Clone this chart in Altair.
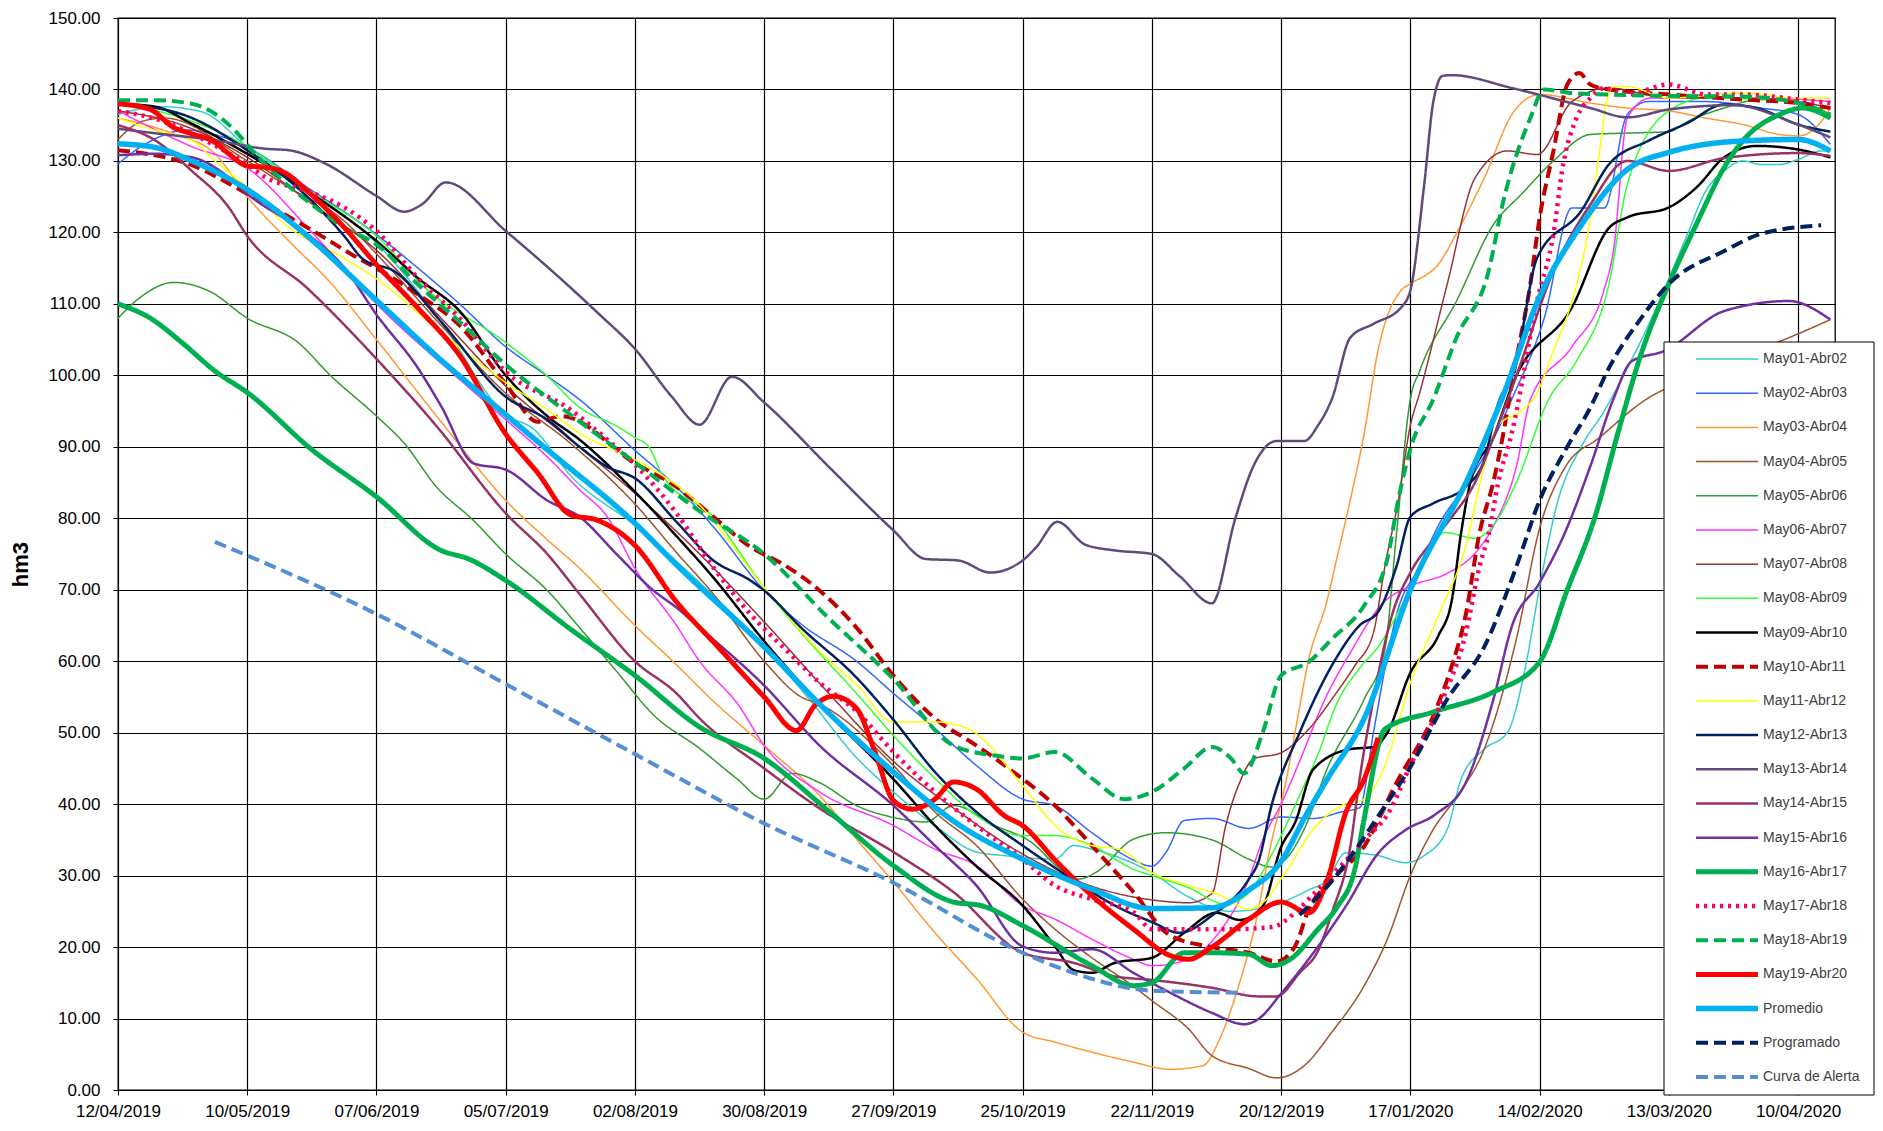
import altair as alt
import pandas as pd

SERIES = ["May01-Abr02", "May02-Abr03", "May03-Abr04", "May04-Abr05", "May05-Abr06",
          "May06-Abr07", "May07-Abr08", "May08-Abr09", "May09-Abr10", "May10-Abr11",
          "May11-Abr12", "May12-Abr13", "May13-Abr14", "May14-Abr15", "May15-Abr16",
          "May16-Abr17", "May17-Abr18", "May18-Abr19", "May19-Abr20", "Promedio",
          "Programado", "Curva de Alerta"]

COLORS = ["#33CCCC", "#3366FF", "#FF9933", "#A0522D", "#339933",
          "#FF33FF", "#993333", "#33FF33", "#000000", "#C00000",
          "#FFFF00", "#002060", "#604A7B", "#993366", "#7030A0",
          "#00B050", "#FF0066", "#00B050", "#FF0000", "#00B0F0",
          "#002060", "#558ED5"]
WIDTHS = [1.5, 1.5, 1.5, 1.5, 1.5,
          1.5, 1.5, 1.5, 2.5, 4,
          1.5, 2.5, 2.5, 2.5, 2.5,
          5, 4.5, 4, 5, 5.5,
          4, 4]
SOLID = [1, 0]
DASH = [12, 6]
DOT = [3, 5]
DASHES = [SOLID] * 9 + [DASH] + [SOLID] * 6 + [DOT, DASH, SOLID, SOLID, DASH, DASH]

TICK_LABELS = ["12/04/2019", "10/05/2019", "07/06/2019", "05/07/2019", "02/08/2019",
               "30/08/2019", "27/09/2019", "25/10/2019", "22/11/2019", "20/12/2019",
               "17/01/2020", "14/02/2020", "13/03/2020", "10/04/2020"]
Y_TICKS = [0, 10, 20, 30, 40, 50, 60, 70, 80, 90, 100, 110, 120, 130, 140, 150]
START_DATE = "2019-04-12"
END_DATE = "2020-04-18"

# (days since 12/04/2019, hm3)
may01 = [(0,136.5),(9,137.6),(18,136.9),(28,132),(41,126),(56,118.5),(70,107.5),(84,94.5),(90,92.5),
         (98,86),(112,79),(126,71),(140,62),(150,54.5),(160,46.5),(168,41.7),(177,37),(186,33.3),
         (192,32.8),(203,32.3),(207,34.2),(211,33.7),(224,30.4),(232,27),(241,25),(250,25.8),
         (258,28),(262,29.4),(266,33.2),(273,32.8),(279,31.8),(283,32.8),(288,36.5),(291,43.5),
         (296,47.7),(301,50),(305,59.4),(308,70.4),(312,82.5),(317,90),(322,95),(327,101),
         (333,109),(340,119.7),(344,125.8),(348,128.6),(352,130),(356,129.5),(360,129.5),
         (364,130.2),(369,131.4),(371,131.4)]
may02 = [(0,129.6),(5,132),(15,134.3),(28,131.9),(41,126.3),(56,119.7),(65,115),(74,110),(84,104),
         (93,99.9),(100,96.6),(112,89.5),(121,84.4),(129,78.8),(140,69.9),(148,65.2),(160,60),
         (168,55.5),(177,50.6),(186,45.4),(196,40.7),(203,39.8),(211,36),(220,32.2),(224,31.3),
         (227,33.2),(231,37.7),(237,38),(245,36.6),(252,38.2),(259,38),(265,38.9),(269,39.5),
         (272,50),(274.5,59),(277,66.5),(282,73.3),(286,78.9),(293,85.5),(298,91.1),(302,96.7),
         (309,108),(315,123.4),(322,123.4),(327,136.5),(331.5,138.3),(344,138.3),(356,137.4),
         (364,136.5),(371,132.3)]
may03 = [(0,136),(12,133.8),(21,131),(28,125),(37,118.8),(46,113),(56,105),(70,93.5),(84,82.5),
         (93,77),(100,73),(112,65),(121,59.5),(129,54.4),(140,48.2),(152,41.2),(160,35.1),
         (168,29.1),(177,22),(186,15.6),(196,8.1),(203,6.7),(211,5.3),(220,3.9),(228,2.9),
         (235,3.4),(239,7.6),(243,15),(246,22),(250,35),(253,43),(255,50),(258,60.3),(262,68.6),
         (264,74.2),(267,82.6),(270,91.9),(273,103.5),(278,111.9),(280,112.8),(286,115.5),
         (291,121.1),(296,127.6),(302.5,137),(308,139.3),(319,138.1),(327,137.4),(336,137),
         (344,136),(352,135.1),(360,133.7),(364,133.5),(369,135.5),(371,137.4)]
may04 = [(0,133),(5,135.5),(10,136),(28,130),(37,126.3),(49,121.6),(56,117),(70,107),(84,97.5),
         (98,90.5),(112,82),(121,75.2),(129,69.4),(140,60),(148,55),(152,54),(168,45.4),
         (177,38.9),(186,34.2),(196,26.7),(203,22.5),(211,18.5),(220,14.5),(224,12.5),(232,8.5),
         (237,4.8),(245,3),(251,1.7),(257,3.4),(263,8.1),(270,14.6),(275,21.1),(280,30),
         (285,36.5),(290,41),(296,47.7),(303,63.2),(308,78.6),(313.5,87.1),(321,91.3),(331,96.6),
         (340,99.5),(350,102.5),(359,104.5),(371,107.8)]
may05 = [(0,108),(5,111),(12,113),(20,111.7),(28,108),(39,104.6),(46,100),(56,94.3),(62,90.5),
         (69,84.4),(77,79.7),(84,75),(93,69.9),(100,64.7),(108,58.6),(116,52.5),(126,47.8),
         (134,43.6),(140,40.7),(146,44.3),(152,43),(160,39.8),(169,38),(175,37.5),(181,39.8),
         (190,37),(198,34.6),(204,31),(208,29.5),(212,30.5),(220,35.1),(227,36),(237,35),
         (245,32.3),(250,31.2),(253,32.3),(257,36.5),(262,45),(270,54.7),(274.5,61.7),(277,77.9),
         (280,96.7),(282,100.6),(290,110.4),(298,121.1),(304,125.3),(311,130),(319,133.7),
         (327,133.9),(336,134.1),(340,135.5),(348,137.4),(356,138.6),(364,138.3),(371,136.5)]
may06 = [(0,137),(16,132),(28,129),(42,120),(56,110),(73,100),(84,93.8),(93,88.6),(100,84),
         (106,80.2),(112,73),(121,65),(126,60),(134.5,53.8),(140,48.2),(152,41.7),(168,37),
         (177,33.7),(186,31.4),(196,25.8),(203,23.9),(211,21.1),(220,18.3),(224,17.4),(232,18.3),
         (238,21.6),(245,29.5),(248,35),(252,40),(256,46),(261.5,54.7),(267,61.2),(274,68.1),
         (280,70.5),(288,72.3),(294,75.1),(298,78.9),(303,87.3),(306,96.6),(315,104),(322,112),
         (324,117.4),(327,136),(332,138.8),(344,138.8),(364,138.6),(371,138.3)]
may07 = [(0,137),(14,135),(28,130.5),(42,124),(56,117.5),(70,108),(84,98.5),(98,91),(112,83.5),
         (126,75),(140,65.5),(154,55.5),(168,46),(182,39),(196,33),(211,28.5),(224,26.6),
         (232,26.2),(237,27.5),(240,37),(243,43),(246,46.3),(252,47.2),(258,50.5),(264,55.6),
         (268,59.4),(272,64),(274.5,73.3),(277.4,82.6),(280,93),(282,97.5),(288,112.8),
         (294,127.6),(301,131.4),(307.5,130.9),(315,138.3),(323,140.2),(336,138.8),(352,138.8),
         (364,138.3),(371,137.4)]
may08 = [(0,138),(14,136),(28,132),(41,126),(56,119.5),(67,112),(84,104.6),(93,99.9),(100,95.5),
         (108,92.9),(112,91.3),(115,90),(118,86),(129,80.2),(140,70.3),(148,64),(160,55.5),
         (168,49.6),(177,43.6),(186,38.4),(196,35.6),(203,35.6),(211,34.2),(220,30.9),(224,30),
         (232,28.3),(240,26),(245,27.6),(250,33),(256,41.2),(260,47),(264,54),(269,59),(273,62),
         (280,70),(287.5,78),(294,77.2),(298,79),(303,85.1),(310,96.7),(316,102),(323,112.7),
         (327,126.7),(336,137),(344,138.8),(364,138.3),(371,136)]
may09 = [(0,138),(8,137.6),(16,135.2),(28,131),(41,125.8),(56,118.8),(65,113.6),(74,109),(84,100),
         (93,94.3),(100,91),(112,83.7),(121,77.5),(129,71.7),(140,62.8),(152,54),(168,43.5),
         (177,37),(186,31.3),(196,25.8),(203,20.1),(207,16.8),(211,16.4),(216,17.8),(224,18.5),
         (231,22),(238,24.8),(243,23.8),(248,25.7),(252,34),(255,37.4),(259,44.9),(267,47.7),
         (272,48),(275,50),(280,58.4),(286,63.5),(289,68.6),(291,78),(293,85),(298,91.4),
         (302.5,99.3),(315,109.5),(323,120.6),(327,122.1),(336,123.5),(342,126.3),(348,130.5),
         (355,132.1),(364,131.6),(371,130.5)]
may10 = [(0,131.5),(16,129.4),(28,125.4),(41,120.7),(52,116.4),(57,114.6),(65,111.3),(74,107),
         (84,98.8),(91,93.5),(96,94.3),(112,87.7),(121,84.4),(129,80.2),(137,76),(144,73.6),
         (152,69.9),(160,64.7),(168,58),(177,52),(186,48.2),(194,44.5),(203,39.8),(211,34.2),
         (220,27.7),(228,21.6),(237,20),(245,19.2),(251,18),(255,20.1),(258,25.3),(263,29.4),
         (270,34.1),(277,43),(285,52.4),(289,59.4),(292,66.5),(295,78),(298,85.1),(300,91.4),
         (302.5,100.7),(306,112.8),(308,122),(311,131.4),(314,140.7),(316.6,142.3),(319,140.7),
         (323,140),(336,139.3),(352,138.6),(364,138.1),(371,137.4)]
may11 = [(0,136),(8,134.3),(16,132.9),(21,130),(28,126.3),(37,120.7),(49,116.4),(56,113.5),
         (70,106),(84,99),(93,95.2),(100,91.9),(112,88.2),(125,82.5),(140,70.3),(152,61.4),
         (160,56.7),(168,51.5),(177,51.5),(184,50.6),(196,42.6),(203,37),(211,34.2),(217,33.7),
         (224,30.4),(232,28.6),(239,27.2),(245,25.3),(248,26.2),(253,30.5),(259,36.5),(265,39.8),
         (270,40.7),(274.5,45.4),(280,57),(286,66.3),(292,76.1),(296,87.3),(299,93),(304,95),
         (307,97),(311,103.4),(316,112.7),(319,122),(321,131.4),(322.5,138.3),(324,140.4),
         (327,140.4),(336,138.8),(352,139.5),(364,138.8),(371,138.8)]
may12 = [(0,138),(14,136.5),(28,131.5),(41,125),(49,119.5),(53,116.3),(60,114.5),(70,107.5),
         (84,97),(93,93.8),(100,90),(106,87.2),(112,85.6),(121,79.5),(129,74.1),(137,71.3),
         (140,69.9),(148,64.7),(160,57.7),(168,51.8),(177,44.5),(186,38.9),(196,34.2),(207,29.4),
         (216,25.8),(224,23.5),(230,22),(237,24.4),(245,29.5),(247,31.8),(250,40),(256,50),
         (263,59.4),(269,65),(273,66.9),(277,73.3),(280,80.2),(285,82.1),(292,84.4),(296,88.2),
         (299,96),(302.5,100.6),(307.5,116.5),(317,123),(323,129.5),(331.5,132.8),(340,135.3),
         (348,137.9),(355,137.4),(364,135.1),(371,134.1)]
may13 = [(0,134.5),(9,133.8),(21,132.9),(32,131.7),(37,131.5),(45,129.6),(56,125.1),(62,122.9),
         (66,124),(71,127),(84,120.2),(104,108.7),(112,103.7),(120,97),(126,93.1),(133,99.8),
         (140,96.2),(154,87.2),(168,78.3),(175,74.3),(182,74.1),(189,72.4),(196,74.1),(199,76),
         (203.5,79.5),(209.6,76.3),(216,75.5),(224,75),(230,71.9),(237,68.1),(242,79.8),
         (246,87.3),(251,90.8),(257,90.8),(260,93),(263,96.7),(267,105.3),(272,107.2),(278,109.5),
         (280,111.9),(283,126.7),(285,138.4),(287,141.9),(289,142),(302,140.2),(319,137.4),
         (327,136.1),(336,137.2),(350,137.8),(364,135.1),(371,133.3)]
may14 = [(0,135),(8,132.9),(16,128.6),(24,123.5),(28,119.5),(41,112.2),(56,102.3),(69,92.9),
         (84,80.7),(93,75),(100,69.4),(112,60),(121,55.5),(126,52),(140,45),(152,39.4),(168,33.3),
         (181,27.7),(196,19.2),(207,17.8),(216,15.9),(224,15.4),(237,14.3),(247,13.1),(251,13.1),
         (256,16.4),(260,19.5),(263,24.8),(267,34.1),(269,43.5),(272,54.7),(276,66.4),(280,72.4),
         (285,77),(289,80.2),(294,85),(299,93),(303,100),(311,114.6),(319,123.9),(327,130),
         (336,128.6),(348,130.4),(364,131.1),(371,130.7)]
may15 = [(0,130.8),(8,131),(16,130.5),(24,127.7),(28,125.4),(41,119.8),(49,115.1),(56,108.5),
         (65,101),(70,95.7),(77,87.7),(84,86.8),(93,82.5),(100,80.2),(108,75),(116,69.9),
         (121,67.5),(126,64.7),(140,56.6),(152,48.2),(168,39.8),(177,34.2),(186,28.6),(196,20.1),
         (203,19.2),(211,19.7),(220,16.4),(228,13.6),(237,10.8),(244,9.2),(247,9.9),(252,13.5),
         (259,19.2),(266,25.7),(273,33.1),(279,36.4),(285.5,38.6),(292,43),(298,54.7),(302,64.9),
         (308,71),(313.5,78),(319,87.3),(324,96.7),(328,102),(335,103.4),(348,109),(362,110.4),
         (371,107.8)]
may16 = [(0,110),(7,108),(14,104.5),(21,100.6),(28,97.6),(42,89.6),(56,83),(70,75.5),(76,74.3),
         (84,71.3),(98,64.5),(112,58),(126,50.8),(140,46.4),(154,39),(168,31.4),(181,26.3),
         (187,25.8),(196,23),(211,17.4),(220,14.6),(224,15),(231,19.2),(237,19.2),(245,19),
         (250,17.4),(254,18.3),(260,22.5),(264,25.5),(268,31),(270,38),(274.5,50.5),(285,52.9),
         (298,55.7),(308,59.9),(314,70),(320,80.2),(325,92),(330,103),(336,112.8),(342,121.2),
         (348,129.1),(352,132.8),(360,136.5),(365,137.4),(371,136)]
may17 = [(0,137),(10,135.5),(20,132.5),(28,129.5),(32,127.7),(41,125.8),(49,123.5),(56,120.2),
         (65,113.6),(74,108),(84,100.5),(98,95.2),(106,91),(112,87.5),(121,80.7),(129,73.1),
         (137,66.6),(145,61.4),(152,57),(160,53),(168,47.3),(177,41.7),(186,37),(196,32.3),
         (203,28.6),(211,26.7),(220,24.9),(224,22.5),(232,22.5),(241,22.5),(250,22.8),(255,24.8),
         (259,27.4),(262,29.4),(271,35.6),(275,38.5),(280,45.4),(287,54.7),(292,63.9),(295,73.3),
         (297,77.9),(299,84.9),(302,92),(307.5,110.5),(311,119.8),(313,129.1),(316,136),
         (319,138.8),(322,140.2),(327,139.3),(336,140.7),(344,139.3),(352,139.3),(364,138.6),
         (371,138.1)]
may18 = [(0,138.5),(8,138.5),(16,138),(21,136.6),(26,133.8),(29,131.5),(34,128.2),(41,124.4),
         (49,120.7),(56,118.3),(65,112.7),(74,107.5),(84,101.5),(98,94.5),(112,87.8),(126,81),
         (140,75),(154,66),(168,57.5),(181,48.2),(190,46.8),(196,46.4),(203,47.3),(211,43.6),
         (218,40.7),(224,41.7),(231,45),(237,48),(241,46.5),(244,44.3),(248,50),(252,58),
         (258,59.9),(263,63.1),(270,67.8),(275,74.3),(277.4,82.7),(280,89.7),(285,96.7),
         (290,105.3),(297,114.7),(300,124),(306,136),(309,140),(315,139.5),(336,139.1),(352,139),
         (364,138.1),(371,136.5)]
may19 = [(0,138),(7,137.2),(12,134.7),(16,133.8),(21,132.6),(24,131),(28,129.3),(32,129.1),
         (36,128.4),(41,125.8),(49,120.7),(56,115.5),(65,109.4),(74,102.8),(84,91.8),(91,86.3),
         (98,80.5),(104,79.7),(112,76.2),(121,68.3),(130,62),(140,55),(147,50.3),(151,53.8),
         (155,55.1),(160,53.4),(164,47.3),(168,40.5),(172,39.3),(177,40.7),(181,43.1),(186,42.1),
         (192,38.4),(196,37),(203,32.2),(211,27.2),(220,22.5),(228,18.8),(232,18.3),(237,20),
         (245,23.9),(252,26.3),(258,24.8),(262,29.4),(266,38.8),(270,43.5),(273,49.3)]
promedio = [(0,132.4),(8,131.9),(16,130),(28,126),(41,119.5),(56,110.5),(69,102.7),(84,94.5),
            (93,89.6),(112,79.3),(121,73.5),(140,62),(152,54),(168,44.5),(182,37.2),(196,32.3),
            (211,28.1),(224,25.4),(237,25.5),(245,28),(252,32),(257,38),(262,43.5),(270,52),
            (280,70),(293,86.3),(300,97),(308,111),(317,121),(327,128.8),(336,131.2),(352,132.8),
            (364,133),(371,131.4)]
programado = [(256,24.5),(262,28.5),(266,31.7),(273,38.3),(280,45.2),(288,54.7),(296,62),
              (303,73.3),(308,82.5),(314,90),(319,95.5),(323,101),(330,108),(336,112.8),
              (348,117.4),(356,119.8),(369,121)]
curva_alerta = [(21,76.7),(56,66.6),(84,56.8),(112,47),(140,37.3),(168,29),(196,19.2),(207,16.4),
                (224,13.9),(244,13.6)]

DATA = [may01, may02, may03, may04, may05, may06, may07, may08, may09, may10, may11, may12,
        may13, may14, may15, may16, may17, may18, may19, promedio, programado, curva_alerta]

start = pd.Timestamp(START_DATE)
rows = []
for name, pts in zip(SERIES, DATA):
    for d, v in pts:
        t = start + pd.Timedelta(hours=round(d * 24))
        rows.append({"series": name, "date": t.strftime("%Y-%m-%dT%H:%M:%SZ"), "value": v})
df = pd.DataFrame(rows)
legend_df = pd.DataFrame({"series": SERIES})
box_df = pd.DataFrame({"box": [0]})


def to_dt(s):
    dd, mm, yy = (int(p) for p in s.split("/"))
    return alt.DateTime(year=yy, month=mm, date=dd, utc=True)


def iso_dt(s):
    yy, mm, dd = (int(p) for p in s.split("-"))
    return alt.DateTime(year=yy, month=mm, date=dd, utc=True)


tick_values = [to_dt(s) for s in TICK_LABELS]

FONT = "Liberation Sans"

# shared style scales (series -> colour / dash / width)
color_enc = alt.Color("series:N", scale=alt.Scale(domain=SERIES, range=COLORS), legend=None)
dash_enc = alt.StrokeDash("series:N", scale=alt.Scale(domain=SERIES, range=DASHES), legend=None)
width_enc = alt.StrokeWidth("series:N",
                            scale=alt.Scale(type="ordinal", domain=SERIES, range=WIDTHS),
                            legend=None)

lines = alt.Chart(df).mark_line(interpolate="monotone", clip=True).encode(
    x=alt.X("date:T",
            scale=alt.Scale(type="utc", domain=[iso_dt(START_DATE), iso_dt(END_DATE)]),
            axis=alt.Axis(values=tick_values, format="%d/%m/%Y", title=None,
                          labelFontSize=17, labelFont=FONT, labelColor="black",
                          labelPadding=8, labelFlush=False, labelOverlap=False,
                          tickSize=5, tickColor="black", domainColor="black",
                          gridColor="black", gridWidth=1.2, grid=True)),
    y=alt.Y("value:Q",
            scale=alt.Scale(domain=[0, 150], nice=False, zero=True),
            axis=alt.Axis(values=Y_TICKS, format=".2f", title="hm3",
                          labelFontSize=17, labelFont=FONT, labelColor="black",
                          labelPadding=13, tickSize=5, tickColor="black",
                          domainColor="black", gridColor="black", gridWidth=1.2, grid=True,
                          titleFont=FONT, titleFontSize=22, titleFontWeight="bold",
                          titleColor="black", titleX=-91, titleY=546,
                          titleBaseline="alphabetic", titleAlign="center")),
    color=color_enc, strokeDash=dash_enc, strokeWidth=width_enc,
)

# legend panel (box, sample lines and names), placed over the right of the plot
LEG_LEFT, LEG_RIGHT, LEG_TOP, LEG_BOTTOM = 1546, 1756, 324, 1077
ROW_FIRST, ROW_LAST = 341, 1059
SYM_X0, SYM_X1, LABEL_X = 1578, 1640, 1645

row_scale = alt.Scale(type="point", domain=SERIES, range=[ROW_FIRST, ROW_LAST], padding=0)

legend_box = alt.Chart(box_df).mark_rect(fill="white", stroke="black", strokeWidth=1).encode(
    x=alt.value(LEG_LEFT), x2=alt.value(LEG_RIGHT),
    y=alt.value(LEG_TOP), y2=alt.value(LEG_BOTTOM),
)

legend_lines = alt.Chart(legend_df).mark_rule().encode(
    x=alt.value(SYM_X0), x2=alt.value(SYM_X1),
    y=alt.Y("series:N", scale=row_scale, axis=None),
    color=color_enc, strokeDash=dash_enc, strokeWidth=width_enc,
)

legend_text = alt.Chart(legend_df).mark_text(
    align="left", baseline="middle", font=FONT, fontSize=14, color="#404040"
).encode(
    x=alt.value(LABEL_X),
    y=alt.Y("series:N", scale=row_scale, axis=None),
    text="series:N",
)

chart = alt.layer(lines, legend_box, legend_lines, legend_text).resolve_scale(
    y="independent"
).properties(
    width=1717, height=1072,
    autosize=alt.AutoSizeParams(type="none"),
    padding={"left": 110, "top": 10, "right": 40, "bottom": 30},
).configure(font=FONT).configure_view(stroke="black", strokeWidth=1.3)

chart.save("out.html", embed_options={"renderer": "svg", "actions": False})
